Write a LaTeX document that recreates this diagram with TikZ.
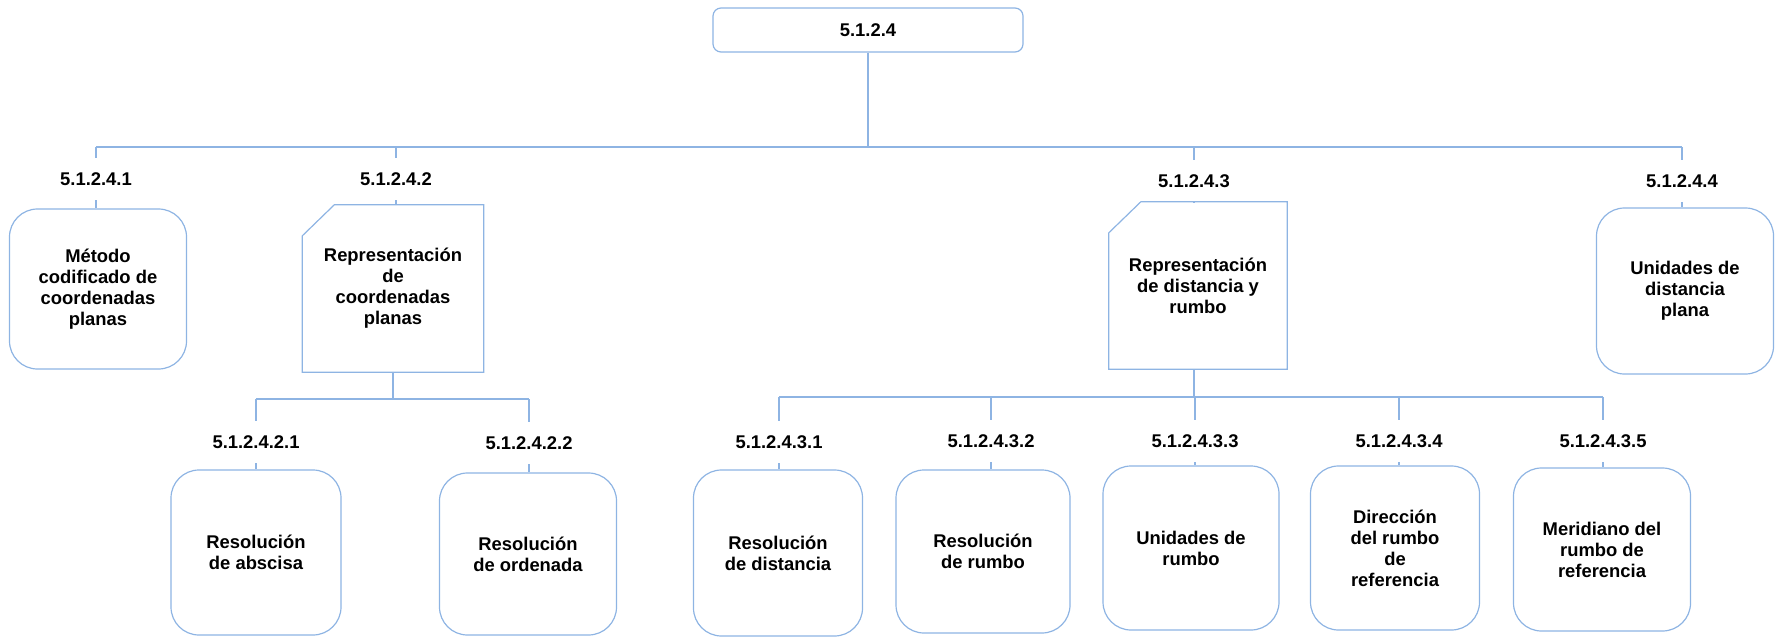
\documentclass[tikz,border=0pt]{standalone}
\usepackage{fontspec}
\setmainfont{Liberation Sans}
\usetikzlibrary{calc}
\definecolor{linea}{HTML}{8EB4E3}

\begin{document}
\begin{tikzpicture}[x=1pt,y=-1pt]
		\tikzstyle{txt}=[font=\fontsize{18.4}{21}\selectfont\bfseries, align=center]
		\tikzstyle{main}=[txt, rectangle, draw=linea, line width=1.2pt, inner sep=0pt]
		\tikzstyle{root}=[main, rounded corners=8pt, minimum width=310pt, minimum height=44pt]
		\tikzstyle{leaf}=[main, rounded corners=28pt]
		\tikzstyle{snip}=[txt, rectangle, inner sep=0pt]
		\tikzstyle{num}=[txt, inner sep=0pt, minimum height=42pt]
		\tikzstyle{connect}=[draw=linea, line width=1.2pt]
		
		\useasboundingbox (0,0) rectangle (1779,637);
		
		\node[root] (r) at (868,30) {5.1.2.4};
		
		\node[num] (n1) at (96,179) {5.1.2.4.1};
		\node[num] (n2) at (396,179) {5.1.2.4.2};
		\node[num] (n3) at (1194,181) {5.1.2.4.3};
		\node[num] (n4) at (1682,181) {5.1.2.4.4};
		
		\node[leaf, minimum width=177pt, minimum height=160pt] (b1) at (98,289) {Método\\codificado de\\coordenadas\\planas};
		\node[snip, minimum width=181pt, minimum height=167pt] (b2) at (393,288.5) {Representación\\de\\coordenadas\\planas};
		\node[snip, minimum width=178pt, minimum height=167pt] (b3) at (1198,285.5) {Representación\\de distancia y\\rumbo};
		\node[leaf, minimum width=177pt, minimum height=166pt] (b4) at (1685,291) {Unidades de\\distancia\\plana};
		
		\draw[connect] ($(b2.north west)+(32,0)$) -- (b2.north east) -- (b2.south east) -- (b2.south west) -- ($(b2.north west)+(0,31)$) -- cycle;
		\draw[connect] ($(b3.north west)+(32,0)$) -- (b3.north east) -- (b3.south east) -- (b3.south west) -- ($(b3.north west)+(0,31)$) -- cycle;
		
		\node[num] (n21) at (256,442) {5.1.2.4.2.1};
		\node[num] (n22) at (529,443) {5.1.2.4.2.2};
		\node[num] (n31) at (779,442) {5.1.2.4.3.1};
		\node[num] (n32) at (991,441) {5.1.2.4.3.2};
		\node[num] (n33) at (1195,441) {5.1.2.4.3.3};
		\node[num] (n34) at (1399,441) {5.1.2.4.3.4};
		\node[num] (n35) at (1603,441) {5.1.2.4.3.5};
		
		\node[leaf, minimum width=170pt, minimum height=165pt] (b21) at (256,552.5) {Resolución\\de abscisa};
		\node[leaf, minimum width=177pt, minimum height=162pt] (b22) at (528,554) {Resolución\\de ordenada};
		\node[leaf, minimum width=169pt, minimum height=166pt] (b31) at (778,553) {Resolución\\de distancia};
		\node[leaf, minimum width=174pt, minimum height=163pt] (b32) at (983,551.5) {Resolución\\de rumbo};
		\node[leaf, minimum width=176pt, minimum height=164pt] (b33) at (1191,548) {Unidades de\\rumbo};
		\node[leaf, minimum width=169pt, minimum height=164pt] (b34) at (1395,548) {Dirección\\del rumbo\\de\\referencia};
		\node[leaf, minimum width=177pt, minimum height=163pt] (b35) at (1602,549.5) {Meridiano del\\rumbo de\\referencia};
		
		\coordinate (j0) at (868,147);
		\coordinate (j2) at (393,399);
		\coordinate (j3) at (1194,397);
		
		\path 
		(r) edge [connect] (j0)
		(n1.north |- j0) edge [connect] (n4.north |- j0)
		(n1.north |- j0) edge [connect] (n1.north)
		(n2.north |- j0) edge [connect] (n2.north)
		(n3.north |- j0) edge [connect] (n3.north)
		(n4.north |- j0) edge [connect] (n4.north)
		(n1.south) edge [connect] (n1.south |- b1.north)
		(n2.south) edge [connect] (n2.south |- b2.north)
		(n3.south) edge [connect] (n3.south |- b3.north)
		(n4.south) edge [connect] (n4.south |- b4.north)
		
		(b2) edge [connect] (j2)
		(n21.north |- j2) edge [connect] (n22.north |- j2)
		(n21.north |- j2) edge [connect] (n21.north)
		(n22.north |- j2) edge [connect] (n22.north)
		(n21.south) edge [connect] (n21.south |- b21.north)
		(n22.south) edge [connect] (n22.south |- b22.north)
		
		(b3.south -| j3) edge [connect] (j3)
		(n31.north |- j3) edge [connect] (n35.north |- j3)
		(n31.north |- j3) edge [connect] (n31.north)
		(n32.north |- j3) edge [connect] (n32.north)
		(n33.north |- j3) edge [connect] (n33.north)
		(n34.north |- j3) edge [connect] (n34.north)
		(n35.north |- j3) edge [connect] (n35.north)
		(n31.south) edge [connect] (n31.south |- b31.north)
		(n32.south) edge [connect] (n32.south |- b32.north)
		(n33.south) edge [connect] (n33.south |- b33.north)
		(n34.south) edge [connect] (n34.south |- b34.north)
		(n35.south) edge [connect] (n35.south |- b35.north)
		;
		
\end{tikzpicture}
\end{document}
